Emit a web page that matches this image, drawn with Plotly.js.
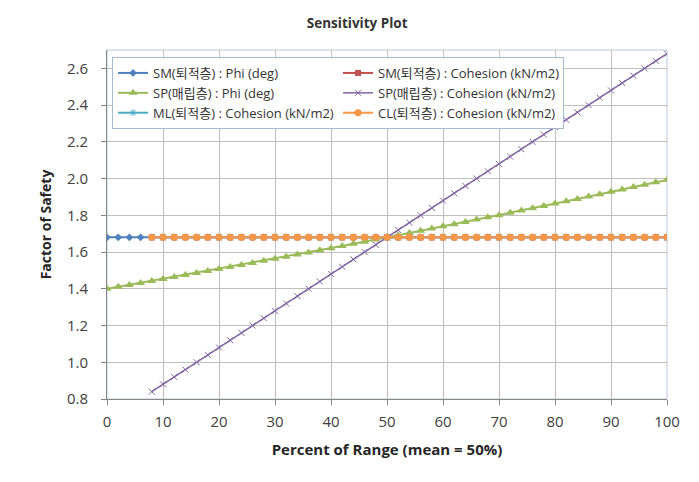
<!DOCTYPE html>
<html>
<head>
<meta charset="utf-8">
<script src="https://cdn.plot.ly/plotly-3.0.1.min.js"></script>
<style>html,body{margin:0;padding:0;background:#fff;}#chart{width:699px;height:482px;}</style>
</head>
<body>
<div id="chart"></div>
<script>
// x positions (percent of range)
var xPhi = [0,2,4,6,8,10,12,14,16,18,20,22,24,26,28,30,32,34,36,38,40,42,44,46,48,50,52,54,56,58,60,62,64,66,68,70,72,74,76,78,80,82,84,86,88,90,92,94,96,98,100];
var xCoh = [8,10,12,14,16,18,20,22,24,26,28,30,32,34,36,38,40,42,44,46,48,50,52,54,56,58,60,62,64,66,68,70,72,74,76,78,80,82,84,86,88,90,92,94,96,98,100];

// Factor of safety values
var smPhi = [1.68,1.68,1.68,1.68,1.68,1.68,1.68,1.68,1.68,1.68,1.68,1.68,1.68,1.68,1.68,1.68,1.68,1.68,1.68,1.68,1.68,1.68,1.68,1.68,1.68,1.68,1.68,1.68,1.68,1.68,1.68,1.68,1.68,1.68,1.68,1.68,1.68,1.68,1.68,1.68,1.68,1.68,1.68,1.68,1.68,1.68,1.68,1.68,1.68,1.68,1.68];
var smCoh = [1.68,1.68,1.68,1.68,1.68,1.68,1.68,1.68,1.68,1.68,1.68,1.68,1.68,1.68,1.68,1.68,1.68,1.68,1.68,1.68,1.68,1.68,1.68,1.68,1.68,1.68,1.68,1.68,1.68,1.68,1.68,1.68,1.68,1.68,1.68,1.68,1.68,1.68,1.68,1.68,1.68,1.68,1.68,1.68,1.68,1.68,1.68];
var spPhi = [1.400,1.411,1.421,1.432,1.443,1.453,1.464,1.475,1.486,1.497,1.508,1.519,1.530,1.541,1.553,1.564,1.575,1.587,1.598,1.610,1.621,1.633,1.645,1.656,1.668,1.680,1.692,1.704,1.716,1.728,1.740,1.752,1.764,1.777,1.789,1.801,1.814,1.826,1.839,1.851,1.864,1.877,1.889,1.902,1.915,1.928,1.941,1.954,1.967,1.980,1.993];
var spCoh = [0.84,0.88,0.92,0.96,1.00,1.04,1.08,1.12,1.16,1.20,1.24,1.28,1.32,1.36,1.40,1.44,1.48,1.52,1.56,1.60,1.64,1.68,1.72,1.76,1.80,1.84,1.88,1.92,1.96,2.00,2.04,2.08,2.12,2.16,2.20,2.24,2.28,2.32,2.36,2.40,2.44,2.48,2.52,2.56,2.60,2.64,2.68];
var mlCoh = [1.68,1.68,1.68,1.68,1.68,1.68,1.68,1.68,1.68,1.68,1.68,1.68,1.68,1.68,1.68,1.68,1.68,1.68,1.68,1.68,1.68,1.68,1.68,1.68,1.68,1.68,1.68,1.68,1.68,1.68,1.68,1.68,1.68,1.68,1.68,1.68,1.68,1.68,1.68,1.68,1.68,1.68,1.68,1.68,1.68,1.68,1.68];
var clCoh = [1.68,1.68,1.68,1.68,1.68,1.68,1.68,1.68,1.68,1.68,1.68,1.68,1.68,1.68,1.68,1.68,1.68,1.68,1.68,1.68,1.68,1.68,1.68,1.68,1.68,1.68,1.68,1.68,1.68,1.68,1.68,1.68,1.68,1.68,1.68,1.68,1.68,1.68,1.68,1.68,1.68,1.68,1.68,1.68,1.68,1.68,1.68];

var seriesNames = [
  "SM(퇴적층) : Phi (deg)",
  "SM(퇴적층) : Cohesion (kN/m2)",
  "SP(매립층) : Phi (deg)",
  "SP(매립층) : Cohesion (kN/m2)",
  "ML(퇴적층) : Cohesion (kN/m2)",
  "CL(퇴적층) : Cohesion (kN/m2)"
];
var xTicks = [0,10,20,30,40,50,60,70,80,90,100];
var yTicks = [0.8,1.0,1.2,1.4,1.6,1.8,2.0,2.2,2.4,2.6];
var yTickText = ["0.8","1.0","1.2","1.4","1.6","1.8","2.0","2.2","2.4","2.6"];

var FONT = "'Open Sans', 'Noto Sans CJK KR', sans-serif";

function tr(x, y, name, color, symbol, msize, lw, mline) {
  return {
    x: x, y: y, name: name, type: 'scatter', mode: 'lines+markers',
    line: {color: color, width: lw},
    marker: {color: color, symbol: symbol, size: msize, line: mline || {width: 0}}
  };
}

var data = [
  tr(xPhi, smPhi, seriesNames[0], '#4F81BD', 'diamond', 6, 2),
  tr(xCoh, smCoh, seriesNames[1], '#C0504D', 'square', 6, 2),
  tr(xPhi, spPhi, seriesNames[2], '#9BBB59', 'triangle-up', 8, 2),
  tr(xCoh, spCoh, seriesNames[3], '#8064A2', 'x-thin-open', 6, 1.5, {width: 1, color: '#B3A2C7'}),
  tr(xCoh, mlCoh, seriesNames[4], '#4BACC6', 'asterisk-open', 6, 2, {width: 1, color: '#4BACC6'}),
  tr(xCoh, clCoh, seriesNames[5], '#F79646', 'circle', 7, 2)
];

var layout = {
  width: 699, height: 482,
  margin: {l: 107, r: 32, t: 50, b: 83},
  paper_bgcolor: '#ffffff', plot_bgcolor: '#ffffff',
  font: {family: FONT, color: '#404040'},
  title: {text: '<b>Sensitivity Plot</b>', font: {size: 13.5, color: '#333333', family: FONT}, x: 0.511, xanchor: 'center', y: 0.952, yanchor: 'middle'},
  xaxis: {
    range: [0, 100], tickvals: xTicks, ticktext: xTicks.map(String),
    showgrid: true, gridcolor: '#BFBFBF', gridwidth: 1,
    showline: true, linecolor: '#868686', linewidth: 1,
    ticks: 'outside', ticklen: 5, tickcolor: '#868686', ticklabelstandoff: 4,
    tickfont: {size: 15, color: '#404040'}, zeroline: false,
    title: {text: '<b>Percent of Range (mean = 50%)</b>', font: {size: 15, color: '#262626'}, standoff: 14}
  },
  yaxis: {
    range: [0.8, 2.7], tickvals: yTicks, ticktext: yTickText,
    showgrid: true, gridcolor: '#BFBFBF', gridwidth: 1,
    showline: true, linecolor: '#868686', linewidth: 1,
    ticks: 'outside', ticklen: 5, tickcolor: '#868686', ticklabelstandoff: 10,
    tickfont: {size: 15, color: '#404040'}, zeroline: false,
    title: {text: '<b>Factor of Safety</b>', font: {size: 14, color: '#262626'}, standoff: 12}
  },
  shapes: [{type: 'rect', xref: 'paper', yref: 'paper', x0: 0, x1: 1, y0: 0, y1: 1, line: {color: '#B9C9DA', width: 1}, layer: 'below'}],
  legend: {
    orientation: 'h', x: 0.009, y: 0.98, xanchor: 'left', yanchor: 'top',
    bgcolor: '#ffffff', bordercolor: '#A7BAD3', borderwidth: 1,
    font: {size: 13, color: '#333333', family: FONT},
    entrywidth: 180, itemwidth: 30, traceorder: 'normal'
  },
  showlegend: true
};

Plotly.newPlot('chart', data, layout, {displayModeBar: false, staticPlot: true});
</script>
</body>
</html>
